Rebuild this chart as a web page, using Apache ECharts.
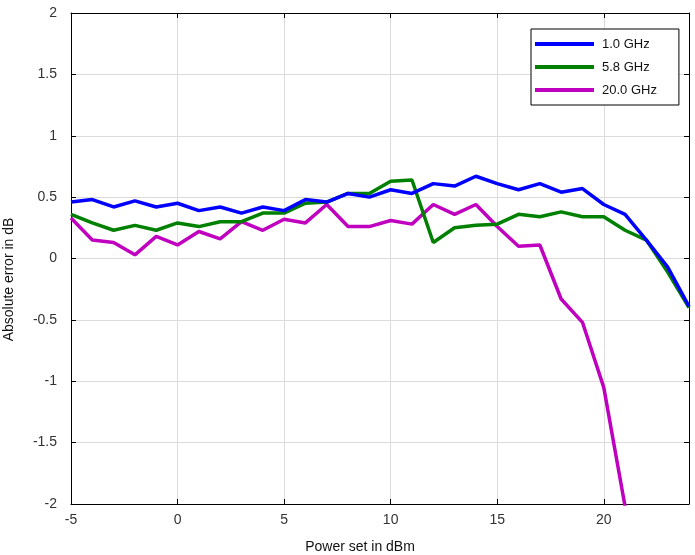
<!DOCTYPE html>
<html lang="en">
<head>
    <meta charset="UTF-8">
    <title>Absolute error vs power</title>
    <style>
        html, body { margin: 0; padding: 0; background: #fff; }
        #main { width: 695px; height: 555px; }
    </style>
</head>
<body>
    <div id="main"></div>
</body>
</html>
<script src="https://cdn.jsdelivr.net/npm/echarts@6/dist/echarts.min.js"></script>
<script type="text/javascript">
// power set, dBm
var powerSet = [-5, -4, -3, -2, -1, 0, 1, 2, 3, 4, 5, 6, 7, 8, 9, 10, 11, 12, 13, 14,
    15, 16, 17, 18, 19, 20, 21, 22, 23, 24];

var err1GHz = [0.46, 0.48, 0.42, 0.47, 0.42, 0.45, 0.39, 0.42, 0.37, 0.42, 0.39, 0.48, 0.46,
    0.53, 0.50, 0.56, 0.53, 0.61, 0.59, 0.67, 0.61, 0.56, 0.61, 0.54, 0.57, 0.44, 0.36, 0.15,
    -0.07, -0.39];
var err58GHz = [0.36, 0.29, 0.23, 0.27, 0.23, 0.29, 0.26, 0.30, 0.30, 0.37, 0.37, 0.45, 0.46,
    0.53, 0.53, 0.63, 0.64, 0.13, 0.25, 0.27, 0.28, 0.36, 0.34, 0.38, 0.34, 0.34, 0.23, 0.15,
    -0.11, -0.40];
// 20 GHz runs off the bottom of the axes after 21 dBm
var err20GHz = [0.33, 0.15, 0.13, 0.03, 0.18, 0.11, 0.22, 0.16, 0.30, 0.23, 0.32, 0.29, 0.44,
    0.26, 0.26, 0.31, 0.28, 0.44, 0.36, 0.44, 0.26, 0.10, 0.11, -0.33, -0.52, -1.05, -2.02];

var seriesNames = ['1.0 GHz', '5.8 GHz', '20.0 GHz'];
var seriesColors = ['#0000ff', '#008000', '#bf00bf'];

function pairs(values) {
    return values.map(function (v, i) { return [powerSet[i], v]; });
}

var myChart = echarts.init(document.getElementById('main'));
var font = 'Liberation Sans, Arial, sans-serif';

// top and right edges of the box, ticks only
var frameAxis = {
    axisLine: { show: true, onZero: false, lineStyle: { color: '#000', width: 1 } },
    axisTick: { show: true, inside: true, length: 5, lineStyle: { color: '#000' } },
    axisLabel: { show: false },
    splitLine: { show: false }
};

option = {
    backgroundColor: '#fff',
    animation: false,
    grid: { left: 71, right: 6, top: 13, bottom: 51, outerBoundsMode: 'none', containLabel: false },
    legend: {
        orient: 'vertical',
        left: 531,
        top: 29,
        width: 145,
        padding: [8, 22, 8, 4],
        itemGap: 9,
        itemWidth: 59,
        itemHeight: 4,
        icon: 'rect',
        borderColor: '#000',
        borderWidth: 1,
        backgroundColor: '#fff',
        textStyle: { fontFamily: font, fontSize: 13, color: '#111', lineHeight: 14, padding: [0, 0, 0, 3] },
        data: seriesNames
    },
    xAxis: [{
        type: 'value',
        min: -5,
        max: 24,
        interval: 5,
        name: 'Power set in dBm',
        nameLocation: 'middle',
        nameGap: 36,
        nameTextStyle: { fontFamily: font, fontSize: 14, color: '#111', padding: [0, 40, 0, 0] },
        axisLine: { show: true, onZero: false, lineStyle: { color: '#000' } },
        axisTick: { show: true, inside: true, length: 5, lineStyle: { color: '#000' } },
        axisLabel: { fontFamily: font, fontSize: 14, color: '#333', margin: 9, showMaxLabel: false },
        splitLine: { show: true, lineStyle: { color: '#dcdcdc', width: 1 } }
    }, Object.assign({ type: 'value', position: 'top', min: -5, max: 24, interval: 5 }, frameAxis)],
    yAxis: [{
        type: 'value',
        min: -2,
        max: 2,
        interval: 0.5,
        name: 'Absolute error in dB',
        nameLocation: 'middle',
        nameGap: 55,
        nameTextStyle: { fontFamily: font, fontSize: 14, color: '#111', padding: [0, 42, 0, 0] },
        axisLine: { show: true, onZero: false, lineStyle: { color: '#000' } },
        axisTick: { show: true, inside: true, length: 5, lineStyle: { color: '#000' } },
        axisLabel: { fontFamily: font, fontSize: 14, color: '#333', margin: 14 },
        splitLine: { show: true, lineStyle: { color: '#dcdcdc', width: 1 } }
    }, Object.assign({ type: 'value', position: 'right', min: -2, max: 2, interval: 0.5 }, frameAxis)],
    series: [err1GHz, err58GHz, err20GHz].map(function (vals, i) {
        return {
            name: seriesNames[i],
            type: 'line',
            data: pairs(vals),
            showSymbol: false,
            symbol: 'none',
            clip: true,
            color: seriesColors[i],
            lineStyle: { color: seriesColors[i], width: 3.5 },
            z: 3 + (2 - i)
        };
    })
};

myChart.setOption(option);
</script>
